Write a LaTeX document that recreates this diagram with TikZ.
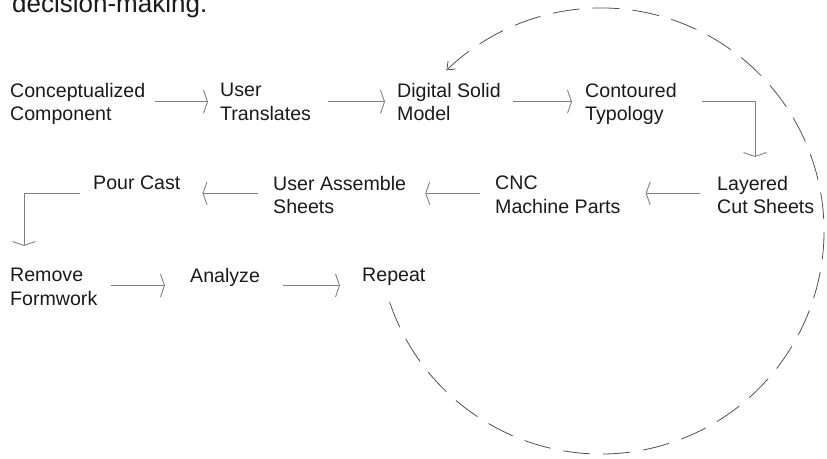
\documentclass[tikz,border=0pt]{standalone}
\usepackage{fontspec}
\setmainfont{Liberation Sans}
\usetikzlibrary{arrows.meta}
\definecolor{txtgray}{HTML}{1A1A1A}
\definecolor{flowgray}{HTML}{808080}
\definecolor{loopgray}{HTML}{505050}

\begin{document}
\begin{tikzpicture}[x=1pt, y=1pt,
    stepnode/.style={anchor=north west, inner sep=0pt, align=left, text=txtgray, font=\fontsize{19.6}{23.5}\selectfont},
    flow/.style={flowgray, line width=0.9pt, -{Straight Barb[length=4pt, width=23pt]}},
    repeatloop/.style={loopgray, line width=0.8pt, dash pattern=on 27pt off 13pt, -{Straight Barb[length=7pt, width=11pt]}}]
    \useasboundingbox (0,0) rectangle (827,458);
    \clip (0,0) rectangle (827,458);
    % tail of the sentence above the figure
    \node[anchor=base west, inner sep=0pt, text=txtgray, font=\fontsize{26}{30}\selectfont] (caption) at (12,445) {decision-making.};
    % row 1
    \node[stepnode] (conc) at (10,375) {Conceptualized\\Component};
    \node[stepnode] (user) at (220,375) {User\\Translates};
    \node[stepnode] (dsm) at (397,375) {Digital Solid\\Model};
    \node[stepnode] (cont) at (585,375) {Contoured\\Typology};
    % row 2
    \node[stepnode] (lay) at (717,282) {Layered\\Cut Sheets};
    \node[stepnode] (cnc) at (495,282) {CNC\\Machine Parts};
    \node[stepnode] (uas) at (273,282) {User Assemble\\Sheets};
    \node[stepnode] (pour) at (93,282) {Pour Cast};
    % row 3
    \node[stepnode] (rem) at (10,190) {Remove\\Formwork};
    \node[stepnode] (ana) at (190,190) {Analyze};
    \node[stepnode] (rep) at (362,190) {Repeat};
    \coordinate (r1) at (0,356.3);
    \coordinate (r2) at (0,264.7);
    \coordinate (r3) at (0,172.5);
    \coordinate (hub) at (601,227);
    % forward along row 1
    \draw[flow] ([xshift=9pt]conc.east |- r1) -- ([xshift=-12pt]user.west |- r1);
    \draw[flow] ([xshift=17pt]user.east |- r1) -- ([xshift=-12pt]dsm.west |- r1);
    \draw[flow] ([xshift=12pt]dsm.east |- r1) -- ([xshift=-13pt]cont.west |- r1);
    \draw[flow, shorten >=19pt] ([xshift=25pt]cont.east |- r1) -| ([xshift=38pt]lay.north west);
    % back along row 2
    \draw[flow] ([xshift=-17pt]lay.west |- r2) -- ([xshift=25pt]cnc.east |- r2);
    \draw[flow] ([xshift=-15pt]cnc.west |- r2) -- ([xshift=19pt]uas.east |- r2);
    \draw[flow] ([xshift=-15pt]uas.west |- r2) -- ([xshift=22pt]pour.east |- r2);
    \draw[flow, shorten >=22pt] ([xshift=-13pt]pour.west |- r2) -| ([xshift=14pt]rem.north west);
    % row 3
    \draw[flow] ([xshift=13pt]rem.east |- r3) -- ([xshift=-25pt]ana.west |- r3);
    \draw[flow] ([xshift=23pt]ana.east |- r3) -- ([xshift=-22pt]rep.west |- r3);
    % back to the solid model
    \draw[repeatloop] (hub) ++(198.6:223) arc[start angle=198.6, end angle=493.9, radius=223];
\end{tikzpicture}
\end{document}
